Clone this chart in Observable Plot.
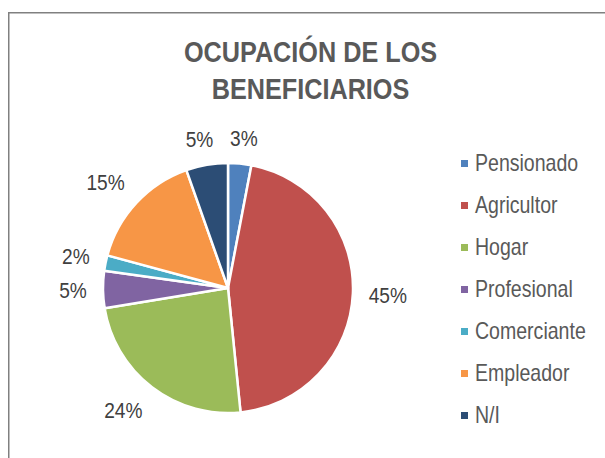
<!DOCTYPE html>
<html>
<head>
<meta charset="utf-8">
<script src="https://cdn.jsdelivr.net/npm/d3@7"></script>
<script src="https://cdn.jsdelivr.net/npm/@observablehq/plot@0.6"></script>
<style>
  html, body { margin: 0; padding: 0; background: #fff; }
  #chart svg { display: block; }
</style>
</head>
<body>
<div id="chart"></div>
<script>
const categories = ["Pensionado", "Agricultor", "Hogar", "Profesional", "Comerciante", "Empleador", "N/I"];
const values = [3.0, 45.4, 24.0, 4.8, 2.0, 15.4, 5.4];
const colors = ["#4F81BD", "#C0504D", "#9BBB59", "#8064A2", "#4BACC6", "#F79646", "#2C4D75"];
const titleLines = ["OCUPACIÓN DE LOS", "BENEFICIARIOS"];

const data = categories.map((c, i) => ({category: c, value: values[i]}));
const W = 605, H = 458;
const cx = 228, cy = 288, R = 125;
const FONT = "'Liberation Sans', Arial, sans-serif";

function addText(g, x, y, str, o) {
  return g.append("text")
    .attr("transform", `translate(${x},${y}) scale(${o.sx},1)`)
    .attr("text-anchor", o.anchor || "middle")
    .attr("dy", o.dy || null)
    .attr("font-family", FONT)
    .attr("font-size", o.size)
    .attr("font-weight", o.weight || "normal")
    .attr("fill", o.fill)
    .text(str);
}

const frameMark = () => {
  const g = d3.create("svg:g");
  g.append("rect")
    .attr("x", 8.75).attr("y", 12.75)
    .attr("width", W + 50).attr("height", H + 50)
    .attr("fill", "none").attr("stroke", "#808080").attr("stroke-width", 1.5);
  return g.node();
};

const titleMark = () => {
  const g = d3.create("svg:g");
  titleLines.forEach((t, i) => addText(g, 310.5, 62 + i * 36.5, t,
    {sx: 0.87, size: 29, weight: "bold", fill: "#595959"}));
  return g.node();
};

const pieMark = (index, scales) => {
  const color = (scales && scales.color) ? scales.color : d3.scaleOrdinal(categories, colors);
  const g = d3.create("svg:g").attr("transform", `translate(${cx},${cy})`);
  const arcs = d3.pie().value(d => d.value).sort(null)(data);
  const arc = d3.arc().innerRadius(0).outerRadius(R);
  g.selectAll("path").data(arcs).join("path")
    .attr("d", arc)
    .attr("fill", d => color(d.data.category))
    .attr("stroke", "#fff")
    .attr("stroke-width", 2.5)
    .attr("stroke-linejoin", "round");
  const total = d3.sum(values);
  const f = v => Math.max(-1, Math.min(1, v * 2));
  arcs.forEach(d => {
    const a = (d.startAngle + d.endAngle) / 2;
    const label = Math.round(d.data.value / total * 100) + "%";
    const hw = label.length === 2 ? 14 : 19, hh = 10;
    const s = Math.sin(a), c = -Math.cos(a);
    const rr = R + 16;
    const x = rr * s + hw * f(s), y = rr * c + hh * f(c);
    addText(g, x, y, label, {sx: 0.85, size: 22.5, fill: "#404040", dy: "0.36em"});
  });
  return g.node();
};

const legendTextMark = (index, scales) => {
  const y = (scales && scales.y) ? scales.y : d3.scalePoint(categories, [160, 417]);
  const g = d3.create("svg:g");
  categories.forEach(c => addText(g, 475, y(c), c,
    {sx: 0.85, size: 23, fill: "#595959", anchor: "start", dy: "0.36em"}));
  return g.node();
};

const chart = Plot.plot({
  width: W,
  height: H,
  margin: 0,
  style: {background: "#fff", overflow: "visible"},
  x: {domain: [0, W], range: [0, W], axis: null},
  y: {type: "point", domain: categories, range: [160, 417], padding: 0, axis: null},
  color: {domain: categories, range: colors},
  marks: [
    frameMark,
    titleMark,
    pieMark,
    Plot.dot(data, {x: () => 464, y: "category", fill: "category", symbol: "square", r: 3.95}),
    legendTextMark
  ]
});
document.getElementById("chart").append(chart);
</script>
</body>
</html>
